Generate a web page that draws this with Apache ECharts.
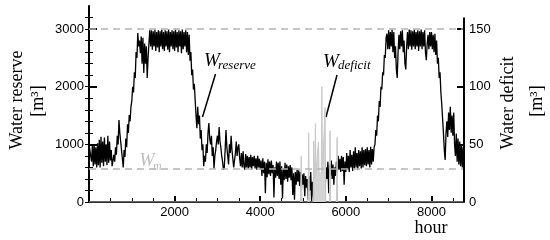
<!DOCTYPE html>
<html>
<head>
<meta charset="utf-8">
<script src="https://cdn.jsdelivr.net/npm/echarts@6/dist/echarts.min.js"></script>
<style>
  html, body { margin: 0; padding: 0; background: #fff; }
  #main { width: 550px; height: 240px; }
</style>
</head>
<body>
<div id="main"></div>
<script>
// water reserve, one value every 20 hours (0 .. 8760)
var reserveStep = 20;
var reserve = [
  // 0 - 980
  1000, 1000, 1000, 700, 1000, 620, 1000, 650, 950, 600, 1020, 640, 1080, 600, 1130, 680, 1050, 620, 1120, 700,
  1000, 640, 1150, 680, 1050, 720, 900, 620, 600, 820, 700, 950, 820, 1150, 1000, 1420, 1200, 1050, 900, 750,
  600, 900, 780, 1100, 950, 1350, 1200, 1510, 1400, 1650,
  // 1000 - 1980
  1750, 2000, 1900, 2250, 2150, 2600, 2500, 2930, 2700, 2800, 2580, 2870, 2400, 2850, 2240, 2750, 2400, 2700, 2150, 2500,
  2750, 2980, 2700, 2980, 2640, 2960, 2700, 2990, 2620, 2950, 2680, 2980, 2600, 2960, 2700, 2990, 2650, 2950, 2620, 2980,
  2700, 2960, 2640, 2990, 2600, 2950, 2700, 2980, 2650, 2960,
  // 2000 - 2980
  2620, 2990, 2680, 2950, 2600, 2980, 2700, 2960, 2580, 2990, 2650, 2950, 2700, 2980, 2600, 2950, 2550, 2900, 2450, 2600,
  2200, 2300, 1950, 2050, 1770, 1500, 1280, 1650, 1350, 1500, 1100, 1250, 900, 1000, 620, 800, 700, 1000, 850, 1200,
  1370, 1100, 1000, 1150, 800, 950, 580, 800, 900, 1050,
  // 3000 - 3980
  1150, 1000, 1300, 1050, 950, 800, 700, 560, 600, 900, 1250, 950, 800, 650, 1000, 850, 1150, 900, 750, 600,
  580, 850, 1050, 800, 950, 1000, 750, 620, 850, 600, 880, 620, 560, 830, 600, 800, 580, 780, 600, 820,
  560, 780, 620, 800, 580, 760, 560, 800, 600, 750,
  // 4000 - 4980
  560, 720, 450, 760, 500, 700, 150, 680, 430, 740, 480, 700, 450, 720, 500, 640, 80, 600, 420, 700,
  450, 680, 400, 700, 300, 620, 60, 580, 380, 680, 400, 650, 350, 620, 420, 640, 380, 600, 120, 500,
  40, 520, 300, 560, 350, 550, 280, 520, 200, 480,
  // 5000 - 5980
  300, 500, 100, 450, 250, 400, 30, 450, 200, 520, 0, 350, 100, 0, 0, 0, 0, 0, 0, 0,
  0, 0, 0, 0, 0, 0, 300, 600, 400, 700, 150, 650, 450, 720, 400, 650, 300, 600, 450, 700,
  500, 800, 560, 750, 520, 800, 540, 780, 300, 700,
  // 6000 - 6980
  520, 850, 560, 800, 520, 900, 600, 820, 540, 880, 580, 950, 600, 850, 560, 900, 620, 880, 580, 950,
  600, 900, 640, 920, 620, 950, 650, 900, 600, 960, 650, 920, 700, 950, 1000, 1250, 1150, 1500, 1400, 1750,
  1650, 2000, 1950, 2250, 2200, 2550, 2500, 2850, 2920, 2650,
  // 7000 - 7980
  2980, 2650, 2950, 2700, 2990, 2600, 2950, 2500, 2700, 2300, 2150, 2600, 2900, 2650, 2960, 2700, 2980, 2600, 2800, 2400,
  2300, 2700, 2950, 2650, 2990, 2700, 2980, 2640, 2960, 2700, 2990, 2650, 2950, 2700, 2980, 2620, 2960, 2700, 2990, 2650,
  2950, 2700, 2980, 2600, 2460, 2750, 2900, 2650, 2950, 2700,
  // 8000 - 8760
  2950, 2650, 2900, 2600, 2920, 2550, 2800, 2400, 2500, 2150, 2250, 1900, 1700, 1450, 1190, 900, 730, 1200, 1400, 1130,
  1550, 1250, 1650, 1200, 1500, 1150, 1550, 1000, 800, 1190, 700, 1100, 650, 1050, 620, 1000, 600, 950, 650
];

// water deficit spikes (right axis)
var deficitHours  = [0, 4940, 4958, 4976, 5115, 5132, 5149, 5235, 5250, 5270, 5278, 5289, 5300, 5345, 5360, 5375, 5425, 5440, 5455, 5500, 5515, 5530, 5615, 5630, 5645, 5780, 5795, 5810, 8760];
var deficitValues = [0, 0, 40, 0, 0, 60, 0, 0, 53, 20, 25, 68, 25, 25, 52, 25, 25, 100, 25, 25, 82, 0, 0, 62, 0, 0, 56, 0, 0];

var refLines = [3000, 570];          // upper limit and W_m
var xTicks = [0, 500, 1000, 1500, 2000, 2500, 3000, 3500, 4000, 4500, 5000, 5500, 6000, 6500, 7000, 7500, 8000, 8500];
var xMajor = [2000, 4000, 6000, 8000];
var yLeftTicks = [0, 200, 400, 600, 800, 1000, 1200, 1400, 1600, 1800, 2000, 2200, 2400, 2600, 2800, 3000, 3200];
var yLeftMajor = [0, 1000, 2000, 3000];
var yRightTicks = [0, 10, 20, 30, 40, 50, 60, 70, 80, 90, 100, 110, 120, 130, 140, 150, 160];
var yRightMajor = [0, 50, 100, 150];

var reserveData = reserve.map(function (v, i) { return [i * reserveStep, v]; });
var deficitData = deficitHours.map(function (h, i) { return [h, deficitValues[i]]; });

var chart = echarts.init(document.getElementById('main'));
var plain = function (v) { return String(v); };
var tickFont = { color: '#000', fontSize: 13, fontFamily: 'Liberation Sans', formatter: plain };

chart.setOption({
  animation: false,
  grid: { left: 89, right: 86, top: 6, bottom: 38 },
  xAxis: [{
    type: 'value', min: 0, max: 8760,
    splitLine: { show: false },
    axisLine: { lineStyle: { color: '#000', width: 2 } },
    axisTick: { inside: false, length: -4, customValues: xTicks, lineStyle: { color: '#000', width: 1 } },
    axisLabel: Object.assign({ customValues: xMajor, margin: 4 }, tickFont)
  }, {
    type: 'value', min: 0, max: 8760, position: 'bottom',
    splitLine: { show: false },
    axisLine: { show: false },
    axisTick: { inside: false, length: -6, customValues: xMajor, lineStyle: { color: '#000', width: 2 } },
    axisLabel: { show: false }
  }],
  yAxis: [{
    type: 'value', min: 0, max: 3400, position: 'left',
    splitLine: { show: false },
    axisLine: { onZero: false, lineStyle: { color: '#000', width: 2 } },
    axisTick: { inside: false, length: -4, customValues: yLeftTicks, lineStyle: { color: '#000', width: 1 } },
    axisLabel: Object.assign({ customValues: yLeftMajor, margin: 5 }, tickFont)
  }, {
    type: 'value', min: 0, max: 170, position: 'right',
    splitLine: { show: false },
    axisLine: { show: false },
    axisTick: { inside: false, length: -4, customValues: yRightTicks, lineStyle: { color: '#000', width: 1 } },
    axisLabel: Object.assign({ customValues: yRightMajor, margin: 5 }, tickFont)
  }, {
    type: 'value', min: 0, max: 3400, position: 'left',
    splitLine: { show: false }, axisLine: { show: false }, axisLabel: { show: false },
    axisTick: { inside: false, length: -8, customValues: [1000, 2000, 3000], lineStyle: { color: '#000', width: 2 } }
  }, {
    type: 'value', min: 0, max: 170, position: 'right',
    splitLine: { show: false }, axisLine: { show: false }, axisLabel: { show: false },
    axisTick: { inside: false, length: -7, customValues: [50, 100, 150], lineStyle: { color: '#000', width: 2 } }
  }],
  series: [{
    name: 'reserve',
    type: 'line',
    data: reserveData,
    showSymbol: false,
    z: 2,
    lineStyle: { color: '#000', width: 1.3 },
    markLine: {
      silent: true, symbol: 'none', label: { show: false },
      lineStyle: { color: '#b4b4b4', type: [7, 5], width: 1.5 },
      data: refLines.map(function (v) { return { yAxis: v }; })
    }
  }, {
    name: 'deficit',
    type: 'line',
    yAxisIndex: 1,
    data: deficitData,
    showSymbol: false,
    z: 3,
    lineStyle: { color: '#c8c8c8', width: 1 },
    areaStyle: { color: '#d4d4d4', opacity: 1 },
    markLine: {
      silent: true, symbol: 'none', label: { show: false },
      lineStyle: { color: '#000', type: 'solid', width: 2 },
      data: [[{ coord: [8760, 0] }, { coord: [8760, 160] }]]
    }
  }],
  graphic: [
    { type: 'text', x: 17, y: 100, rotation: Math.PI / 2,
      style: { text: 'Water reserve', font: '18px "Liberation Serif"', fill: '#000', align: 'center', verticalAlign: 'middle' } },
    { type: 'text', x: 38, y: 101, rotation: Math.PI / 2,
      style: { text: '[m³]', font: '18px "Liberation Serif"', fill: '#000', align: 'center', verticalAlign: 'middle' } },
    { type: 'text', x: 508, y: 103, rotation: Math.PI / 2,
      style: { text: 'Water deficit', font: '18px "Liberation Serif"', fill: '#000', align: 'center', verticalAlign: 'middle' } },
    { type: 'text', x: 537, y: 101, rotation: Math.PI / 2,
      style: { text: '[m³]', font: '18px "Liberation Serif"', fill: '#000', align: 'center', verticalAlign: 'middle' } },
    { type: 'text', x: 431, y: 228,
      style: { text: 'hour', font: '18px "Liberation Serif"', fill: '#000', align: 'center', verticalAlign: 'middle' } },
    // W_reserve
    { type: 'text', x: 212, y: 61,
      style: { text: 'W', font: 'italic 19px "Liberation Serif"', fill: '#000', align: 'center', verticalAlign: 'middle' } },
    { type: 'text', x: 218, y: 66,
      style: { text: 'reserve', font: 'italic 13px "Liberation Serif"', fill: '#000', align: 'left', verticalAlign: 'middle' } },
    { type: 'line', shape: { x1: 215.5, y1: 74, x2: 202.5, y2: 117 }, style: { stroke: '#000', lineWidth: 1.5 } },
    // W_deficit
    { type: 'text', x: 331, y: 62,
      style: { text: 'W', font: 'italic 19px "Liberation Serif"', fill: '#000', align: 'center', verticalAlign: 'middle' } },
    { type: 'text', x: 338, y: 66,
      style: { text: 'deficit', font: 'italic 13px "Liberation Serif"', fill: '#000', align: 'left', verticalAlign: 'middle' } },
    { type: 'line', shape: { x1: 337, y1: 75, x2: 326, y2: 117 }, style: { stroke: '#000', lineWidth: 1.5 } },
    // W_m
    { type: 'text', x: 147, y: 161,
      style: { text: 'W', font: 'italic 18px "Liberation Serif"', fill: '#bdbdbd', align: 'center', verticalAlign: 'middle' } },
    { type: 'text', x: 153, y: 167,
      style: { text: 'm', font: 'italic 12px "Liberation Serif"', fill: '#bdbdbd', align: 'left', verticalAlign: 'middle' } }
  ]
});
</script>
</body>
</html>
